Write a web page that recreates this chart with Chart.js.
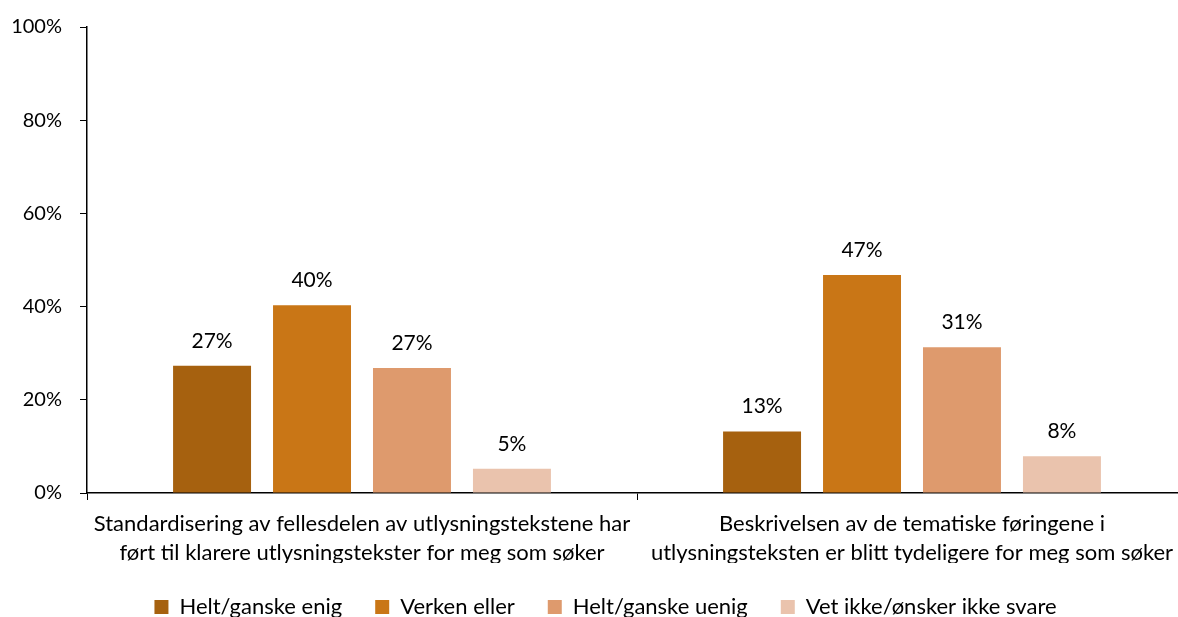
<!DOCTYPE html>
<html>
<head>
<meta charset="utf-8">
<script src="https://cdn.jsdelivr.net/npm/chart.js@4"></script>
<style>
  html, body { margin: 0; padding: 0; background: #fff; overflow: hidden; }
  #wrap { position: relative; width: 1196px; height: 628px; }
</style>
</head>
<body>
<div id="wrap"><canvas id="myChart"></canvas></div>
<script>
// chart data
const categories = [
  ['Standardisering av fellesdelen av utlysningstekstene har', 'ført til klarere utlysningstekster for meg som søker'],
  ['Beskrivelsen av de tematiske føringene i', 'utlysningsteksten er blitt tydeligere for meg som søker']
];
const seriesNames = ['Helt/ganske enig', 'Verken eller', 'Helt/ganske uenig', 'Vet ikke/ønsker ikke svare'];
const enig = [27.3, 13.2];
const verken = [40.3, 46.8];
const uenig = [26.8, 31.3];
const vetIkke = [5.2, 7.9];
const colors = ['#A6610F', '#C97616', '#DE9A6D', '#EAC3AD'];
const yTicks = [0, 20, 40, 60, 80, 100];

const FONT = 'Lato, "Open Sans", sans-serif';

// value labels above the bars
const valueLabels = {
  id: 'valueLabels',
  afterDatasetsDraw(chart) {
    const ctx = chart.ctx;
    ctx.save();
    ctx.fillStyle = '#000';
    ctx.font = '21px ' + FONT;
    ctx.textAlign = 'center';
    ctx.textBaseline = 'middle';
    chart.data.datasets.forEach((ds, i) => {
      chart.getDatasetMeta(i).data.forEach((bar, j) => {
        ctx.fillText(Math.round(ds.data[j]) + '%', bar.x, bar.y - 25);
      });
    });
    ctx.restore();
  }
};

// nudge the legend a bit to the right
const legendShift = {
  id: 'legendShift',
  afterLayout(chart) {
    if (chart.legend) {
      chart.legend.left += 12;
      chart.legend.right += 12;
    }
  }
};

const seriesValues = [enig, verken, uenig, vetIkke];

new Chart(document.getElementById('myChart').getContext('2d'), {
  type: 'bar',
  data: {
    labels: categories,
    datasets: seriesNames.map((name, i) => ({
      label: name,
      data: seriesValues[i],
      backgroundColor: colors[i],
      borderWidth: 0,
      categoryPercentage: 0.727,
      barPercentage: 0.78,
    })),
  },
  options: {
    responsive: true,
    maintainAspectRatio: false,
    animation: false,
    layout: { padding: { top: 27, left: 0, right: 9, bottom: 0 } },
    plugins: {
      tooltip: { enabled: false },
      legend: {
        position: 'bottom',
        labels: {
          boxWidth: 14,
          boxHeight: 14,
          padding: 33,
          color: '#000',
          font: { family: FONT, size: 22 },
          generateLabels: (chart) => chart.data.datasets.map((ds, i) => ({
            text: ds.label,
            fillStyle: colors[i],
            strokeStyle: colors[i],
            lineWidth: 0,
            datasetIndex: i,
          })),
        },
      },
    },
    scales: {
      x: {
        offset: true,
        afterFit: (axis) => { axis.height = 70; },
        grid: {
          offset: true,
          drawOnChartArea: false,
          drawTicks: true,
          tickLength: 7,
          color: '#000',
        },
        border: { display: true, color: '#000', width: 1.5 },
        ticks: {
          color: '#000',
          font: { family: FONT, size: 22, lineHeight: 1.3 },
          maxRotation: 0,
          padding: 10,
        },
      },
      y: {
        min: 0,
        max: 100,
        afterBuildTicks: (axis) => { axis.ticks = yTicks.map((v) => ({ value: v })); },
        afterFit: (axis) => {
          axis.width = 87;
          axis.paddingTop = 0;
          axis.paddingBottom = 0;
        },
        grid: {
          drawOnChartArea: false,
          drawTicks: true,
          tickLength: 7,
          color: '#000',
        },
        border: { display: true, color: '#000', width: 1.5 },
        ticks: {
          color: '#000',
          font: { family: FONT, size: 20 },
          padding: 18,
          callback: (v) => v + '%',
        },
      },
    },
  },
  plugins: [valueLabels, legendShift],
});
</script>
</body>
</html>
